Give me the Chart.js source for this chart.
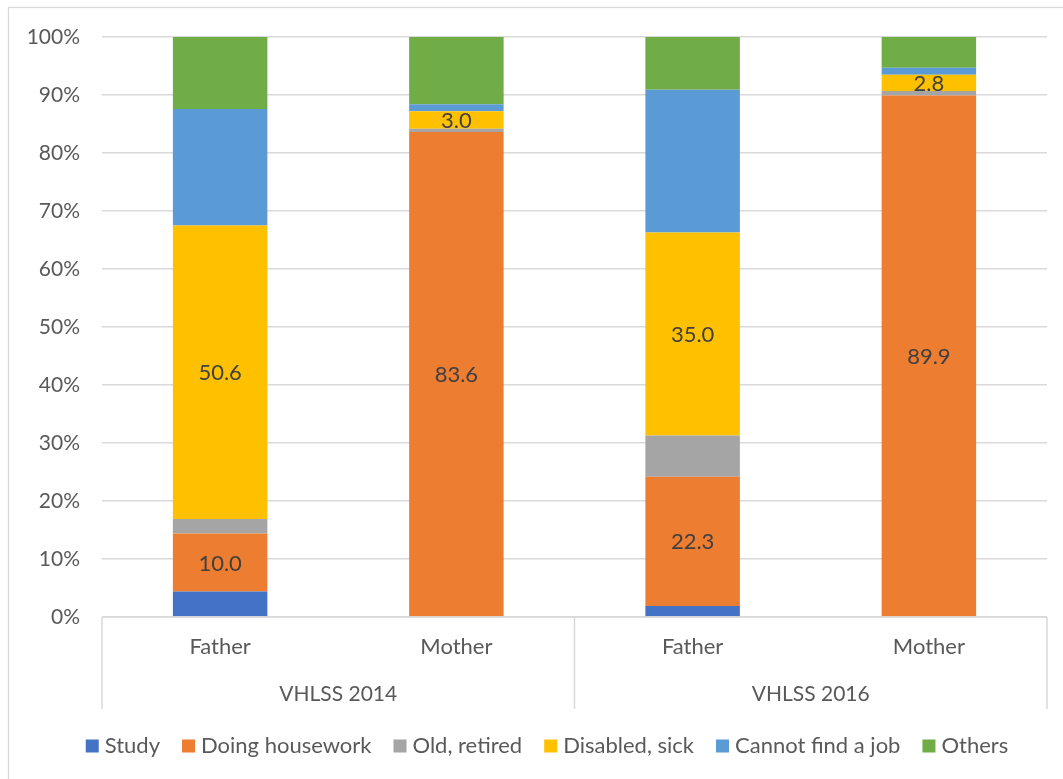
<!DOCTYPE html>
<html>
<head>
<meta charset="utf-8">
<script src="https://cdn.jsdelivr.net/npm/chart.js@4"></script>
<style>
  html, body { margin: 0; padding: 0; background: #fff; }
  #wrap { width: 1063px; height: 779px; }
</style>
</head>
<body>
<div id="wrap"><canvas id="reasonChart" width="1063" height="779"></canvas></div>
<script>
// categories (bar level) and groups (survey level)
const categories = ['Father', 'Mother', 'Father', 'Mother'];
const groups = ['VHLSS 2014', 'VHLSS 2016'];
const groupSize = 2; // bars per group

// series values, percent of each bar
const study      = [4.4, 0, 1.9, 0];
const housework  = [10.0, 83.6, 22.3, 89.9];
const oldRetired = [2.5, 0.6, 7.1, 0.8];
const disabled   = [50.6, 3.0, 35.0, 2.8];
const cannotFind = [20.1, 1.2, 24.6, 1.2];
const others     = [12.4, 11.6, 9.1, 5.3];

const seriesNames = ['Study', 'Doing housework', 'Old, retired', 'Disabled, sick', 'Cannot find a job', 'Others'];
const seriesColors = ['#4472C4', '#ED7D31', '#A5A5A5', '#FFC000', '#5B9BD5', '#70AD47'];
const labelledSeries = [1, 3]; // only these get value labels

const yTicks = [0, 10, 20, 30, 40, 50, 60, 70, 80, 90, 100];

const FONT = 'Lato, "Open Sans", sans-serif';
const TEXT = '#595959';
const LINE = '#d9d9d9';

// draws the frame, value labels, two level x axis and legend
const excelDecor = {
    id: 'excelDecor',
    beforeDraw(chart) {
        const ctx = chart.ctx;
        ctx.save();
        ctx.fillStyle = '#fff';
        ctx.fillRect(0, 0, chart.width, chart.height);
        ctx.strokeStyle = LINE;
        ctx.lineWidth = 1.3;
        ctx.strokeRect(8.5, 7.5, chart.width + 50, chart.height + 50); // frame runs off the right/bottom
        ctx.restore();
    },
    afterDatasetsDraw(chart) {
        const ctx = chart.ctx;
        ctx.save();
        ctx.font = '22px ' + FONT;
        ctx.fillStyle = '#404040';
        ctx.textAlign = 'center';
        ctx.textBaseline = 'middle';
        labelledSeries.forEach(i => {
            const meta = chart.getDatasetMeta(i);
            meta.data.forEach((bar, j) => {
                const p = bar.getProps(['x', 'y', 'base'], true);
                const v = chart.data.datasets[i].data[j];
                if (!v) return;
                ctx.fillText(v.toFixed(1), p.x, (p.y + p.base) / 2 + 1);
            });
        });
        ctx.restore();
    },
    afterDraw(chart) {
        const ctx = chart.ctx;
        const area = chart.chartArea;
        const x = chart.scales.x;
        const step = (area.right - area.left) / categories.length;
        const lineBottom = 709;
        ctx.save();
        ctx.strokeStyle = LINE;
        ctx.lineWidth = 1.5;
        // axis line
        ctx.beginPath();
        ctx.moveTo(area.left, area.bottom);
        ctx.lineTo(area.right, area.bottom);
        // group separators
        for (let g = 0; g <= groups.length; g++) {
            const sx = area.left + g * groupSize * step;
            ctx.moveTo(sx, area.bottom);
            ctx.lineTo(sx, lineBottom);
        }
        ctx.stroke();

        ctx.fillStyle = TEXT;
        ctx.textAlign = 'center';
        ctx.textBaseline = 'middle';
        ctx.font = '22px ' + FONT;
        categories.forEach((c, i) => {
            ctx.fillText(c, x.getPixelForValue(i), 647);
        });
        ctx.font = '21px ' + FONT;
        groups.forEach((g, i) => {
            const gx = area.left + (i * groupSize + groupSize / 2) * step;
            ctx.fillText(g, gx, 694);
        });

        // legend
        ctx.font = '22px ' + FONT;
        const box = 13, gapIn = 6, gapOut = 22;
        const widths = seriesNames.map(n => ctx.measureText(n).width);
        let total = widths.reduce((a, b) => a + b, 0) + seriesNames.length * (box + gapIn) + (seriesNames.length - 1) * gapOut;
        let lx = 547 - total / 2;
        const ly = 746;
        ctx.textAlign = 'left';
        seriesNames.forEach((n, i) => {
            ctx.fillStyle = seriesColors[i];
            ctx.fillRect(lx, ly - box / 2, box, box);
            lx += box + gapIn;
            ctx.fillStyle = TEXT;
            ctx.fillText(n, lx, ly);
            lx += widths[i] + gapOut;
        });
        ctx.restore();
    }
};

const seriesData = [study, housework, oldRetired, disabled, cannotFind, others];

function initChart() { //build the stacked bar chart
    const ctx = document.getElementById('reasonChart').getContext('2d');
    return new Chart(ctx, {
        type: 'bar',
        data: {
            labels: categories,
            datasets: seriesData.map((d, i) => ({
                label: seriesNames[i],
                data: d,
                backgroundColor: seriesColors[i],
                borderWidth: 0,
                barPercentage: 0.4,
                categoryPercentage: 1.0
            }))
        },
        options: {
            responsive: false,
            animation: false,
            devicePixelRatio: 1,
            layout: { padding: { top: 37, right: 16, bottom: 162, left: 0 } },
            plugins: {
                legend: { display: false },
                tooltip: { enabled: false }
            },
            scales: {
                x: {
                    stacked: true,
                    display: false
                },
                y: {
                    stacked: true,
                    min: 0,
                    max: 100,
                    afterFit: s => { s.width = 102; },
                    afterBuildTicks: s => { s.ticks = yTicks.map(v => ({ value: v })); },
                    border: { display: false },
                    grid: { color: LINE, lineWidth: 1.5, drawTicks: false },
                    ticks: {
                        padding: 22,
                        color: TEXT,
                        font: { family: FONT, size: 21 },
                        callback: v => v + '%'
                    }
                }
            }
        },
        plugins: [excelDecor]
    });
}

window.addEventListener('DOMContentLoaded', initChart);
</script>
</body>
</html>
